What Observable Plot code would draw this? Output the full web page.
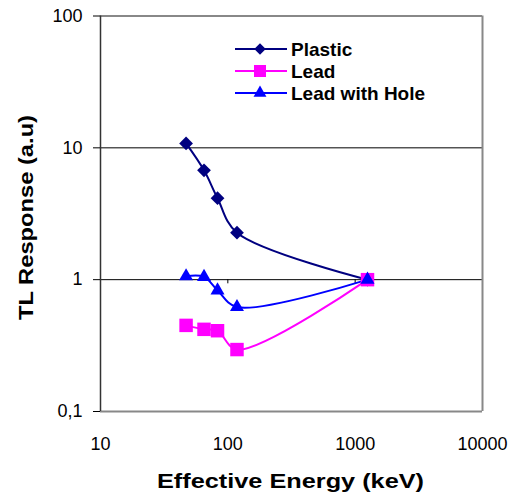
<!DOCTYPE html>
<html>
<head>
<meta charset="utf-8">
<script src="https://cdn.jsdelivr.net/npm/d3@7"></script>
<script src="https://cdn.jsdelivr.net/npm/@observablehq/plot@0.6"></script>
<style>
  html, body { margin: 0; padding: 0; background: #fff; }
</style>
</head>
<body>
<div id="chart"></div>
<script>
// Data
const energy = [47, 65, 83, 118, 1250];
const plastic = [10.8, 6.75, 4.15, 2.27, 1.0];
const lead = [0.45, 0.42, 0.41, 0.295, 1.0];
const leadHole = [1.06, 1.05, 0.83, 0.62, 1.0];

const seriesNames = ["Plastic", "Lead", "Lead with Hole"];
const seriesValues = [plastic, lead, leadHole];
const seriesColors = ["#000080", "#FF00FF", "#0000FF"];
const seriesSymbols = ["diamond2", "square", "triangle"];
const seriesR = [6.2, 7.6, 5.2];

const xTicks = [10, 100, 1000, 10000];
const yTicks = [0.1, 1, 10, 100];

const xTitle = "Effective Energy (keV)";
const yTitle = "TL Response (a.u)";

const font = "'Liberation Sans', Arial, Helvetica, sans-serif";

const seriesMarks = [];
seriesNames.forEach((name, i) => {
  const rows = energy.map((e, j) => ({x: e, y: seriesValues[i][j]}));
  seriesMarks.push(Plot.line(rows, {x: "x", y: "y", stroke: seriesColors[i], strokeWidth: 2, curve: "catmull-rom"}));
});
seriesNames.forEach((name, i) => {
  const rows = energy.map((e, j) => ({x: e, y: seriesValues[i][j]}));
  seriesMarks.push(Plot.dot(rows, {x: "x", y: "y", symbol: seriesSymbols[i], r: seriesR[i], fill: seriesColors[i], stroke: "none"}));
});

const svg = Plot.plot({
  width: 511,
  height: 499,
  marginLeft: 100,
  marginRight: 29,
  marginTop: 15.5,
  marginBottom: 88,
  style: {fontFamily: font, fontSize: "18px", background: "#fff", color: "#000"},
  x: {type: "log", domain: [10, 10000]},
  y: {type: "log", domain: [0.1, 100]},
  marks: [
    Plot.ruleY([10], {stroke: "#000", strokeWidth: 1}),
    Plot.ruleY([1], {stroke: "#000", strokeWidth: 1}),
    Plot.ruleX(xTicks.slice(1), {y1: 1, y2: 0.93, stroke: "#000", strokeWidth: 1}),
    Plot.ruleY([100, 0.1], {stroke: "#888", strokeWidth: 2}),
    Plot.ruleX([10000], {stroke: "#888", strokeWidth: 2}),
    Plot.ruleX([10], {stroke: "#333", strokeWidth: 1.5}),
    Plot.axisY({ticks: yTicks, tickSize: 7, tickPadding: 11, label: null, fontSize: 18,
      tickFormat: d => String(d).replace(".", ",")}),
    Plot.axisX({ticks: xTicks, tickSize: 0, tickPadding: 26, label: null, fontSize: 18,
      tickFormat: d => String(d)}),
    ...seriesMarks
  ]
});

document.getElementById("chart").appendChild(svg);

const s = d3.select(svg);
// Axis titles
s.append("text")
  .attr("x", 290.5).attr("y", 488)
  .attr("text-anchor", "middle")
  .attr("font-family", font).attr("font-weight", "bold").attr("font-size", 21)
  .attr("textLength", 267).attr("lengthAdjust", "spacingAndGlyphs")
  .attr("fill", "#000")
  .text(xTitle);
s.append("text")
  .attr("transform", "translate(33,217.5) rotate(-90)")
  .attr("text-anchor", "middle")
  .attr("font-family", font).attr("font-weight", "bold").attr("font-size", 21)
  .attr("textLength", 205).attr("lengthAdjust", "spacingAndGlyphs")
  .attr("fill", "#000")
  .text(yTitle);

// Legend
const symMap = {diamond2: d3.symbolDiamond2, square: d3.symbolSquare, triangle: d3.symbolTriangle};
const legendR = [5.2, 6.8, 4.8];
const lg = s.append("g");
seriesNames.forEach((name, i) => {
  const y = 49 + i * 22;
  lg.append("line").attr("x1", 235).attr("x2", 287).attr("y1", y).attr("y2", y)
    .attr("stroke", seriesColors[i]).attr("stroke-width", 2);
  lg.append("path")
    .attr("transform", `translate(260,${y})`)
    .attr("d", d3.symbol(symMap[seriesSymbols[i]], legendR[i] * legendR[i] * Math.PI)())
    .attr("fill", seriesColors[i]);
  lg.append("text").attr("x", 291).attr("y", y).attr("dy", "0.36em")
    .attr("text-anchor", "start")
    .attr("font-family", font).attr("font-weight", "bold").attr("font-size", 19)
    .attr("fill", "#000")
    .text(name);
});
</script>
</body>
</html>
